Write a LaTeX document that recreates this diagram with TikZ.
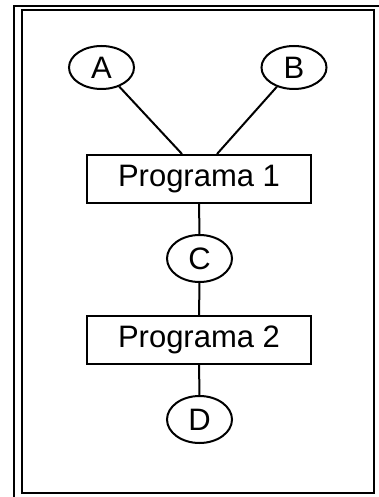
\documentclass[tikz,border=0pt]{standalone}
\usepackage{fontspec}
\setmainfont{Liberation Sans}
\usetikzlibrary{shapes.geometric}

\tikzset{
  prog/.style={draw, line width=2pt, minimum width=224pt, minimum height=48pt, inner sep=0pt},
  dato/.style={draw, ellipse, line width=2pt, minimum width=65pt, minimum height=47pt, inner sep=0pt},
  enlace/.style={line width=2pt},
}

\begin{document}
\begin{tikzpicture}[x=1pt, y=-1pt, font=\fontsize{31}{37}\selectfont]
\useasboundingbox (0,0) rectangle (379,497);

% marco doble
\draw[line width=2pt] (14,497) -- (14,6) -- (379,6);
\draw[line width=2pt] (22,10) rectangle (374,493);

\node[dato, minimum height=43pt] (A) at (101.5,67.5) {A};
\node[dato, minimum height=43pt] (B) at (294,67.5) {B};
\node[prog] (p1) at (199,179) {Programa 1};
\node[dato] (C) at (199.5,258.5) {C};
\node[prog] (p2) at (199,340) {Programa 2};
\node[dato] (D) at (199.5,419.5) {D};

\draw[enlace] (A) -- ([xshift=-17pt]p1.north);
\draw[enlace] (B) -- ([xshift=18pt]p1.north);
\draw[enlace] (p1) -- (C);
\draw[enlace] (C) -- (p2);
\draw[enlace] (p2) -- (D);
\end{tikzpicture}
\end{document}
